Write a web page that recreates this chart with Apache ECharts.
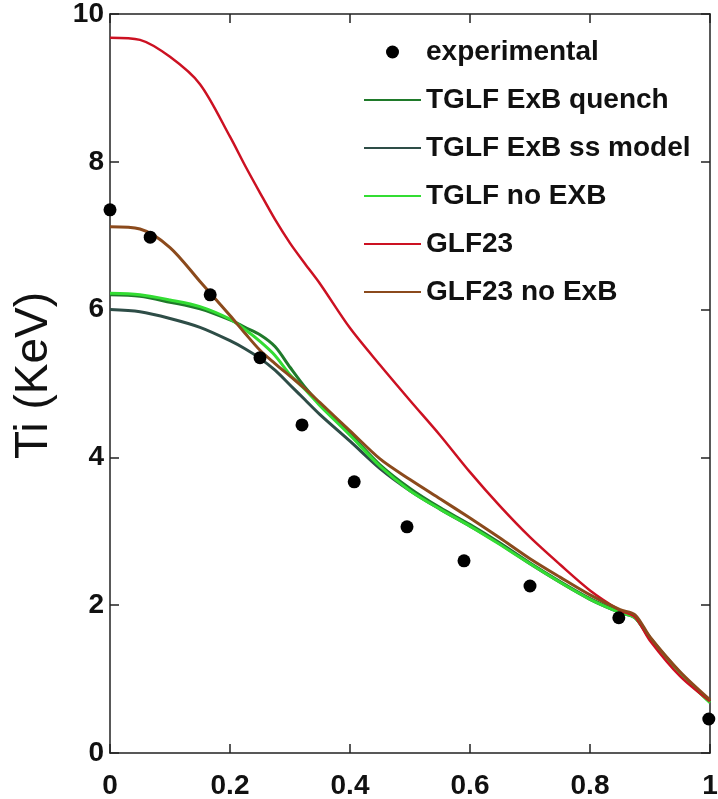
<!DOCTYPE html>
<html>
<head>
<meta charset="utf-8">
<script src="https://cdn.jsdelivr.net/npm/echarts@6/dist/echarts.min.js"></script>
<style>
  html, body { margin: 0; padding: 0; background: #fff; }
</style>
</head>
<body>
<div id="chart" style="width: 718px; height: 799px;"></div>
<script>
// radial coordinate grid shared by model curves
const rho = [0, 0.05, 0.1, 0.15, 0.2, 0.225, 0.25, 0.275, 0.3, 0.325, 0.35, 0.4, 0.45, 0.5, 0.55, 0.6, 0.65, 0.7, 0.75, 0.8, 0.85, 0.875, 0.9, 0.95, 1];

const glf23       = [9.68, 9.65, 9.42, 9.05, 8.34, 7.95, 7.58, 7.22, 6.90, 6.62, 6.35, 5.75, 5.25, 4.77, 4.30, 3.80, 3.34, 2.92, 2.55, 2.20, 1.93, 1.84, 1.52, 1.04, 0.70];
const glf23NoExb  = [7.12, 7.09, 6.84, 6.38, 5.92, 5.68, 5.45, 5.27, 5.10, 4.93, 4.74, 4.36, 3.98, 3.70, 3.44, 3.18, 2.91, 2.63, 2.38, 2.14, 1.94, 1.87, 1.57, 1.10, 0.72];
const tglfNoExb   = [6.22, 6.20, 6.13, 6.04, 5.87, 5.73, 5.57, 5.38, 5.12, 4.92, 4.70, 4.30, 3.88, 3.55, 3.30, 3.07, 2.82, 2.56, 2.31, 2.08, 1.90, 1.83, 1.55, 1.08, 0.68];
const tglfQuench  = [6.20, 6.18, 6.10, 6.01, 5.86, 5.76, 5.66, 5.50, 5.22, 4.95, 4.72, 4.32, 3.90, 3.58, 3.32, 3.09, 2.84, 2.57, 2.32, 2.09, 1.91, 1.84, 1.56, 1.09, 0.70];
const tglfSsModel = [6.00, 5.97, 5.88, 5.76, 5.58, 5.47, 5.34, 5.18, 4.98, 4.78, 4.58, 4.22, 3.85, 3.55, 3.30, 3.07, 2.83, 2.56, 2.31, 2.08, 1.90, 1.83, 1.55, 1.08, 0.69];

// experimental points
const expX = [0, 0.067, 0.167, 0.25, 0.32, 0.407, 0.495, 0.59, 0.70, 0.848, 0.998];
const expY = [7.35, 6.98, 6.20, 5.35, 4.44, 3.67, 3.06, 2.60, 2.26, 1.83, 0.46];

const lineNames = ["TGLF ExB quench", "TGLF ExB ss model", "TGLF no EXB", "GLF23", "GLF23 no ExB"];

function pairs(xs, ys) {
  return xs.map((x, i) => [x, ys[i]]);
}

function lineSeries(name, ys, color, width, z) {
  return {
    name: name,
    type: "line",
    data: pairs(rho, ys),
    symbol: "none",
    smooth: 0.3,
    z: z,
    lineStyle: { color: color, width: width },
    itemStyle: { color: color }
  };
}

const font = "'Liberation Sans', Arial, sans-serif";
const frame = { show: true, onZero: false, lineStyle: { color: "#222", width: 1.5 } };
const ticks = { show: true, inside: true, length: 9, lineStyle: { color: "#222", width: 1.5 } };

let chart = echarts.init(document.getElementById("chart"));
chart.setOption({
  animation: false,
  backgroundColor: "#fff",
  grid: { left: 110, right: 8, top: 14, bottom: 46, outerBoundsMode: "none" },
  legend: {
    orient: "vertical",
    left: 358,
    top: 33,
    itemWidth: 57,
    itemHeight: 13,
    itemGap: 20,
    lineStyle: { width: 2 },
    textStyle: { fontFamily: font, fontSize: 28, fontWeight: "bold", color: "#111", lineHeight: 28 },
    data: [{ name: "experimental" }].concat(lineNames.map(n => ({ name: n, itemStyle: { opacity: 0 } })))
  },
  xAxis: [
    {
      type: "value", min: 0, max: 1, interval: 0.2,
      axisLine: frame, axisTick: ticks, splitLine: { show: false },
      axisLabel: { fontFamily: font, fontSize: 28, fontWeight: "bold", color: "#111", margin: 19 }
    },
    {
      type: "value", position: "top", min: 0, max: 1, interval: 0.2,
      axisLine: frame, axisTick: ticks, splitLine: { show: false }, axisLabel: { show: false }
    }
  ],
  yAxis: [
    {
      type: "value", min: 0, max: 10, interval: 2,
      name: "Ti (KeV)", nameLocation: "middle", nameRotate: 90, nameGap: 53,
      nameTextStyle: { fontFamily: font, fontSize: 46, color: "#111", padding: [0, 0, 0, 16] },
      axisLine: frame, axisTick: ticks, splitLine: { show: false },
      axisLabel: { fontFamily: font, fontSize: 28, fontWeight: "bold", color: "#111", margin: 6 }
    },
    {
      type: "value", position: "right", min: 0, max: 10, interval: 2,
      axisLine: frame, axisTick: ticks, splitLine: { show: false }, axisLabel: { show: false }
    }
  ],
  series: [
    {
      name: "experimental",
      type: "scatter",
      data: pairs(expX, expY),
      symbol: "circle",
      symbolSize: 13,
      z: 5,
      itemStyle: { color: "#000", opacity: 1 }
    },
    lineSeries(lineNames[0], tglfQuench, "#1f7a2a", 3, 2),
    lineSeries(lineNames[1], tglfSsModel, "#2e4d47", 3, 2),
    lineSeries(lineNames[2], tglfNoExb, "#33dd33", 3, 2),
    lineSeries(lineNames[3], glf23, "#cc1122", 2.5, 3),
    lineSeries(lineNames[4], glf23NoExb, "#8b4a1c", 3, 3)
  ]
});
</script>
</body>
</html>
